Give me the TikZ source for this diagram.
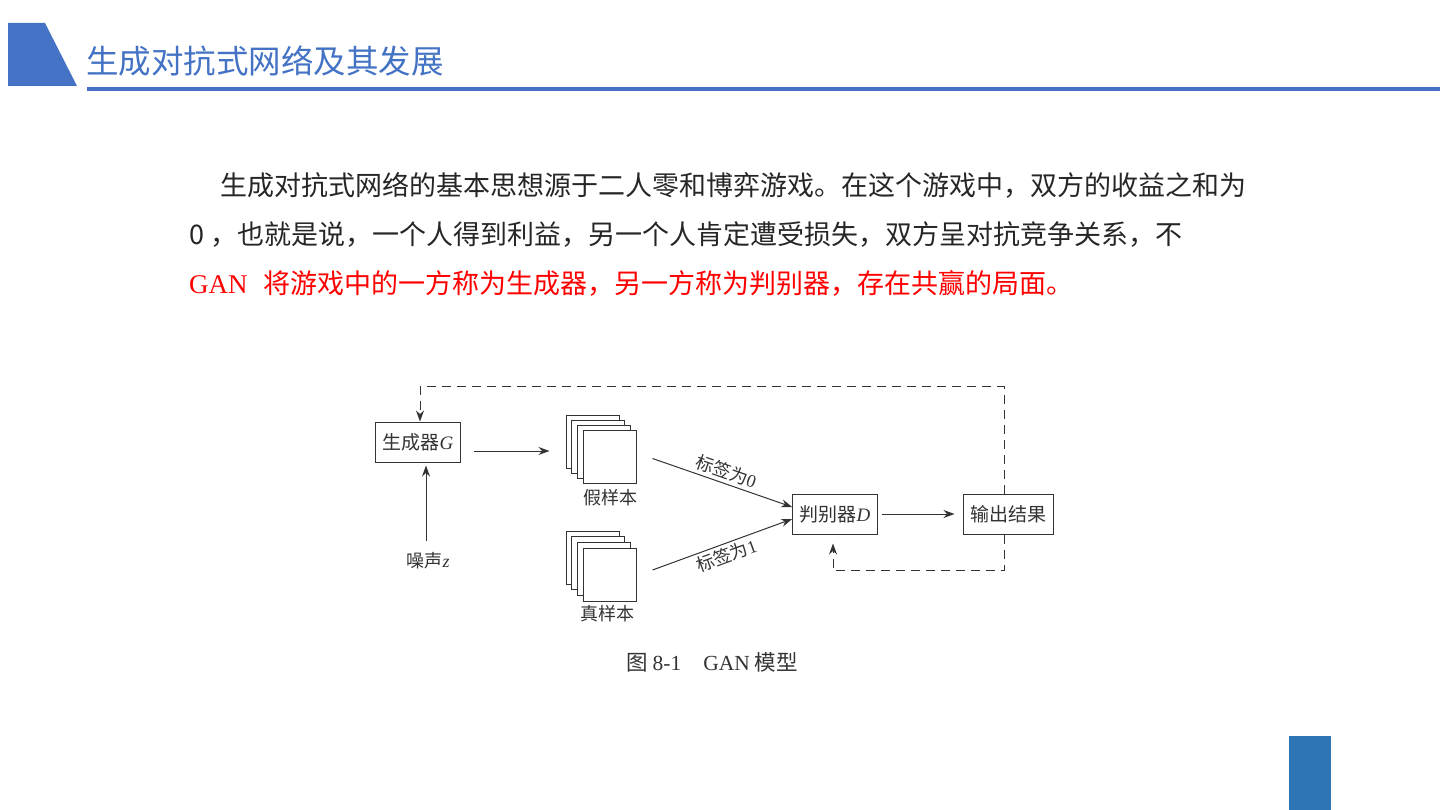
\documentclass[tikz,border=0pt]{standalone}
\usepackage{fontspec}
\setmainfont{Noto Sans CJK SC}
\newfontfamily\lser{Liberation Serif}
\usetikzlibrary{arrows.meta}
\definecolor{titleblue}{HTML}{4472C4}
\definecolor{barblue}{HTML}{2E75B6}
\definecolor{bodygray}{HTML}{262626}
\definecolor{figgray}{HTML}{333333}
\definecolor{redtext}{HTML}{FF0000}

\begin{document}
\begin{tikzpicture}[
		x=1pt,
		y=-1pt,
		para/.style={
			anchor=west,
			inner sep=0pt,
			text=bodygray,
			font=\fontsize{27}{27}\selectfont,
		},
		block/.style={
			draw=figgray,
			line width=1pt,
			fill=white,
			text=figgray,
			minimum height=40pt,
			inner xsep=7pt,
			font=\fontsize{19}{19}\selectfont,
		},
		sheet/.style={
			draw=figgray,
			line width=1pt,
			fill=white,
			minimum size=53pt,
			inner sep=0pt,
		},
		tag/.style={
			text=figgray,
			inner sep=3pt,
			font=\fontsize{18}{18}\selectfont,
		},
		arr/.style={
			figgray,
			line width=1pt,
			-{Stealth[length=11pt,width=8pt]},
		},
		dashline/.style={
			figgray,
			line width=1pt,
			dash pattern=on 9pt off 6pt,
		},
	]
		\useasboundingbox (0,0) rectangle (1440,810);
		\fill[titleblue] (8,23) -- (45,23) -- (77,86) -- (8,86) -- cycle;
		\fill[titleblue] (87,87) rectangle (1440,91);
		\fill[barblue] (1289,736) rectangle (1331,810);
		\node[anchor=west, inner sep=0pt, text=titleblue, font=\fontsize{32.5}{32.5}\selectfont] (title) at (86,61) {生成对抗式网络及其发展};

		\node[para] (line1) at (220,185) {生成对抗式网络的基本思想源于二人零和博弈游戏。在这个游戏中，双方的收益之和为};
		\node[para] (line2) at (189,234) {0 ，也就是说，一个人得到利益，另一个人肯定遭受损失，双方呈对抗竞争关系，不};
		\node[para, text=redtext] (line3) at (189,283) {{\lser GAN}\hspace{16pt}将游戏中的一方称为生成器，另一方称为判别器，存在共赢的局面。};

		\node[block] (gen) at (418,442) {生成器{\lser\itshape G}};
		\node[block] (disc) at (835,514) {判别器{\lser\itshape D}};
		\node[block] (out) at (1008,514) {输出结果};
		\node[tag] (noise) at (428,561) {噪声{\lser\itshape z}};

		\foreach \i in {0,...,3}
			\node[sheet] (fk\i) at (592.5+5.67*\i, 441.5+5*\i) {};
		\foreach \i in {0,...,3}
			\node[sheet] (rl\i) at (592.5+5.67*\i, 557.5+5.83*\i) {};
		\node[tag] (fklabel) at (610,498) {假样本};
		\node[tag] (rllabel) at (607,614) {真样本};

		\draw[arr, shorten <=13pt, shorten >=16pt] ([yshift=-9pt]gen.east) -- ([yshift=-9pt]gen.east -| fk0.west);
		\draw[arr, shorten <=8pt, shorten >=3pt] ([xshift=-2pt]noise.north) -- ([xshift=-2pt]noise.north |- gen.south);
		\draw[arr] ([xshift=16pt,yshift=-2pt]fk3.east) -- node[tag, above, sloped] {标签为{\lser 0}} ([yshift=7pt]disc.west);
		\draw[arr] ([xshift=16pt,yshift=5pt]rl3.east) -- node[tag, below, sloped] {标签为{\lser 1}} ([yshift=-5pt]disc.west);
		\draw[arr, shorten <=4pt, shorten >=8pt] (disc.east) -- (out.west);

		\draw[dashline, arr] ([xshift=-4pt]out.north) -- ++(0,-107) -| ([xshift=2pt]gen.north);
		\draw[dashline, arr, shorten >=9pt] ([xshift=-4pt]out.south) -- ++(0,36) -| ([xshift=-2pt]disc.south);

		\node[inner sep=0pt, text=figgray, font=\fontsize{21.5}{21.5}\selectfont] (caption) at (712,662) {图 {\lser 8-1}\hspace{22pt}{\lser GAN} 模型};
	\end{tikzpicture}
\end{document}
